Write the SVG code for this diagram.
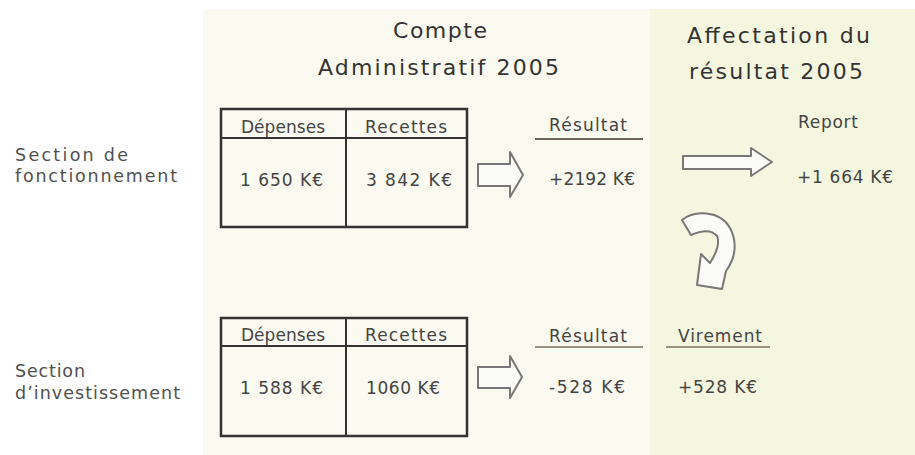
<svg xmlns="http://www.w3.org/2000/svg" width="915" height="455" viewBox="0 0 915 455">
<style>
text{font-family:"DejaVu Sans","Liberation Sans",sans-serif;fill:#3a3a3a;}
.title{font-size:22px;fill:#333;}
.lbl{font-size:17.5px;fill:#505050;}
.th{font-size:17px;fill:#444;}
.val{font-size:17px;fill:#444;}
.res{font-size:17px;fill:#444;}
.tbl{fill:none;stroke:#333;stroke-width:2.5;}
.tline{stroke:#333;stroke-width:2;}
.ul{stroke:#6b6258;stroke-width:2;}
.ul2{stroke:#9a9080;stroke-width:2;}
.blk{fill:#fbfbf8;stroke:#777;stroke-width:2;stroke-linejoin:round;}
</style>
<rect x="0" y="0" width="915" height="455" fill="#ffffff"/>
<rect x="203" y="9" width="447" height="446" fill="#fbfaf0"/>
<rect x="650" y="9" width="265" height="446" fill="#f5f6e0"/>

<g id="title-compte">
<text class="title" x="393" y="38" textLength="94" lengthAdjust="spacing">Compte</text>
<text class="title" x="318" y="75" textLength="241" lengthAdjust="spacing">Administratif 2005</text>
</g>
<g id="title-affectation">
<text class="title" x="687" y="43" textLength="183" lengthAdjust="spacing">Affectation du</text>
<text class="title" x="689" y="79" textLength="174" lengthAdjust="spacing">résultat 2005</text>
</g>

<g id="label-fonctionnement">
<text class="lbl" x="15" y="161" textLength="113" lengthAdjust="spacing">Section de</text>
<text class="lbl" x="15" y="182" textLength="162" lengthAdjust="spacing">fonctionnement</text>
</g>
<g id="label-investissement">
<text class="lbl" x="15" y="377" textLength="70" lengthAdjust="spacing">Section</text>
<text class="lbl" x="15" y="399" textLength="165" lengthAdjust="spacing">d’investissement</text>
</g>

<g id="table-fonctionnement">
<rect class="tbl" x="221" y="109" width="246" height="118"/>
<line class="tline" x1="221" y1="138" x2="467" y2="138"/>
<line class="tline" x1="346" y1="109" x2="346" y2="227"/>
<text class="th" x="241" y="133" textLength="84" lengthAdjust="spacing">Dépenses</text>
<text class="th" x="365" y="133" textLength="82" lengthAdjust="spacing">Recettes</text>
<text class="val" x="240" y="186" textLength="83" lengthAdjust="spacing">1 650 K€</text>
<text class="val" x="366" y="186" textLength="86" lengthAdjust="spacing">3 842 K€</text>
</g>

<g id="table-investissement">
<rect class="tbl" x="221" y="318" width="246" height="118"/>
<line class="tline" x1="221" y1="346" x2="467" y2="346"/>
<line class="tline" x1="346" y1="318" x2="346" y2="436"/>
<text class="th" x="241" y="341" textLength="84" lengthAdjust="spacing">Dépenses</text>
<text class="th" x="365" y="341" textLength="82" lengthAdjust="spacing">Recettes</text>
<text class="val" x="240" y="394" textLength="83" lengthAdjust="spacing">1 588 K€</text>
<text class="val" x="366" y="394" textLength="74" lengthAdjust="spacing">1060 K€</text>
</g>

<g id="resultat-fonctionnement">
<text class="res" x="549" y="131" textLength="78" lengthAdjust="spacing">Résultat</text>
<line class="ul" x1="535" y1="139" x2="643" y2="139"/>
<text class="val" x="549" y="185" textLength="86" lengthAdjust="spacing">+2192 K€</text>
</g>

<g id="report">
<text class="res" x="798" y="128" textLength="60" lengthAdjust="spacing">Report</text>
<text class="val" x="797" y="183" textLength="96" lengthAdjust="spacing">+1 664 K€</text>
</g>

<g id="resultat-investissement">
<text class="res" x="549" y="342" textLength="78" lengthAdjust="spacing">Résultat</text>
<line class="ul2" x1="535" y1="347" x2="643" y2="347"/>
<text class="val" x="549" y="393" textLength="76" lengthAdjust="spacing">-528 K€</text>
</g>

<g id="virement">
<text class="res" x="678" y="342" textLength="84" lengthAdjust="spacing">Virement</text>
<line class="ul2" x1="666" y1="347" x2="770" y2="347"/>
<text class="val" x="678" y="393" textLength="79" lengthAdjust="spacing">+528 K€</text>
</g>

<g id="connectors">
<path class="blk" d="M478,164 L510,164 L510,152 L523,175 L510,197 L510,186 L478,186 Z"/>
<path class="blk" d="M478,367 L510,367 L510,356 L522,377 L510,398 L510,388 L478,388 Z"/>
<path class="blk" d="M683,156 L751,156 L751,148 L772,162 L751,176 L751,169 L683,169 Z"/>
<path class="blk" d="M682,220 C694,210 720,210 730,228 C738,243 735,259 726,271 L722,289 L697,285 L701,254 L710,263 C717,252 720,243 717,236 C711,229 700,231 691,235 Z"/>
</g>
</svg>
